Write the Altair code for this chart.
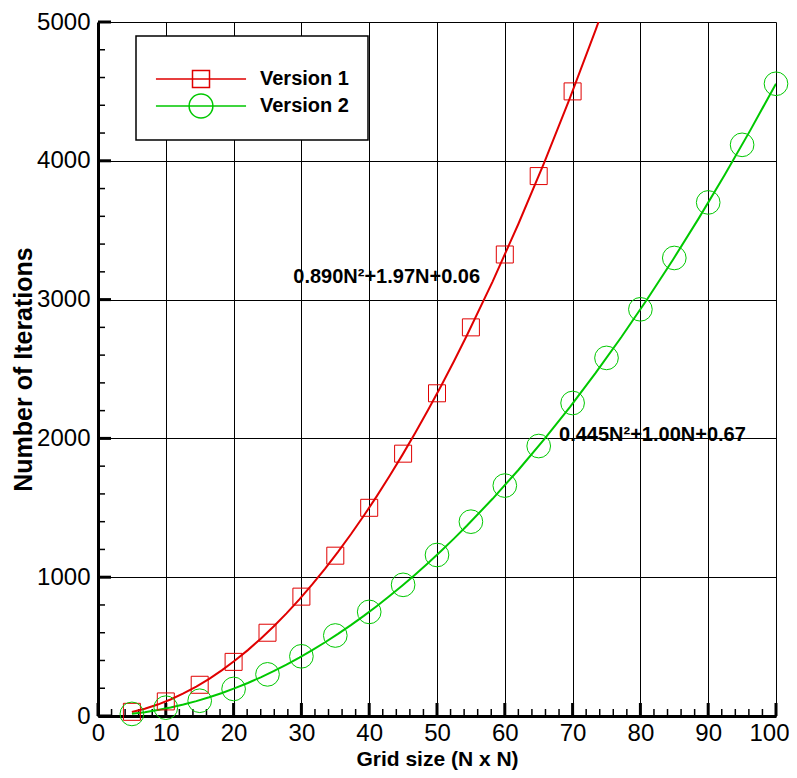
import altair as alt
import pandas as pd

# ---- data ----
series_names = ["Version 1", "Version 2"]
series_colors = ["#e00000", "#00c800"]

v1_n = [5, 10, 15, 20, 25, 30, 35, 40, 45, 50, 55, 60, 65, 70]
v1_iters = [30, 105, 225, 390, 600, 860, 1155, 1500, 1890, 2325, 2800, 3325, 3890, 4500]

v2_n = [5, 10, 15, 20, 25, 30, 35, 40, 45, 50, 55, 60, 65, 70, 75, 80, 85, 90, 95, 100]
v2_iters = [15, 60, 110, 195, 300, 430, 580, 750, 945, 1160, 1400, 1660, 1945, 2255,
            2580, 2930, 3300, 3700, 4115, 4555]

x_ticks = [0, 10, 20, 30, 40, 50, 60, 70, 80, 90, 100]
y_ticks = [0, 1000, 2000, 3000, 4000, 5000]
x_minor = [v for v in range(0, 101, 2) if v % 10]
y_minor = [v for v in range(0, 5001, 200) if v % 1000]

eq_labels = ["0.890N\u00b2+1.97N+0.06", "0.445N\u00b2+1.00N+0.67"]
eq_n = [28.8, 68.0]
eq_iters = [3165, 2025]

# ---- tables ----
df = pd.DataFrame({
    "series": [series_names[0]] * len(v1_n) + [series_names[1]] * len(v2_n),
    "n": v1_n + v2_n,
    "iters": v1_iters + v2_iters,
})
eq_df = pd.DataFrame({"n": eq_n, "iters": eq_iters, "label": eq_labels})

W, H = 678, 694
FONT = "Liberation Sans"

SQ_PATH = "M-5.3,0H5.3M-1,-1H1V1H-1Z"
CI_PATH = "M-5.3,0H5.3M-1.4,0A1.4,1.4,0,1,1,1.4,0A1.4,1.4,0,1,1,-1.4,0Z"

legend_def = alt.Legend(
    title=" ", titleFontSize=10, titlePadding=4,
    orient="none", legendX=38, legendY=14, padding=19,
    strokeColor="black", fillColor="white",
    labelFont=FONT, labelFontSize=20, labelFontWeight="bold", labelColor="black",
    symbolSize=289, symbolStrokeWidth=1.5, symbolOffset=36, labelOffset=49,
    rowPadding=0,
)

color = alt.Color("series:N", scale=alt.Scale(domain=series_names, range=series_colors),
                  legend=legend_def)
shape = alt.Shape("series:N", scale=alt.Scale(domain=series_names, range=[SQ_PATH, CI_PATH]),
                  legend=legend_def)

last_x = "datum.value == 100"
x_enc = alt.X("n:Q", scale=alt.Scale(domain=[0, 100], nice=False),
              axis=alt.Axis(values=x_ticks, title="Grid size (N x N)",
                            titleFont=FONT, titleFontSize=21, titleFontWeight="bold",
                            titleColor="black", titlePadding=3,
                            labelFont=FONT, labelFontSize=24, labelColor="black",
                            labelPadding=5, ticks=False, tickSize=0,
                            labelAlign={"condition": {"test": last_x, "value": "right"},
                                        "value": "center"},
                            labelOffset={"condition": {"test": last_x, "value": 13},
                                         "value": 0},
                            domainColor="black", domainWidth=3,
                            grid=True, gridColor="black", gridWidth=1, gridOpacity=1,
                            labelFlush=False, labelOverlap=False))
y_enc = alt.Y("iters:Q", scale=alt.Scale(domain=[0, 5000], nice=False),
              axis=alt.Axis(values=y_ticks, format="d", title="Number of Iterations",
                            titleFont=FONT, titleFontSize=25, titleFontWeight="bold",
                            titleColor="black", titlePadding=0,
                            labelFont=FONT, labelFontSize=24, labelColor="black",
                            labelPadding=8, ticks=False, tickSize=0,
                            domainColor="black", domainWidth=3,
                            grid=True, gridColor="black", gridWidth=1, gridOpacity=1,
                            labelFlush=False, labelOverlap=False))

base = alt.Chart(df)

curves = base.transform_regression(
    "n", "iters", method="poly", order=2, groupby=["series"], extent=[5, 100]
).mark_line(clip=True, strokeWidth=2).encode(x=x_enc, y=y_enc, color=color)

squares = base.transform_filter(alt.datum.series == series_names[0]).mark_point(
    shape="square", size=289, filled=False, strokeWidth=1, opacity=1
).encode(x=x_enc, y=y_enc, color=color)

circles = base.transform_filter(alt.datum.series == series_names[1]).mark_point(
    shape="circle", size=560, filled=False, strokeWidth=1, opacity=1
).encode(x=x_enc, y=y_enc, color=color)

legend_src = base.mark_point(opacity=0, size=289, filled=False).encode(
    x=x_enc, y=y_enc, color=color, shape=shape)

xt_major = alt.Chart(pd.DataFrame({"n": x_ticks})).mark_rule(
    color="black", strokeWidth=3).encode(x=x_enc, y=alt.value(H), y2=alt.value(H - 13))
xt_minor = alt.Chart(pd.DataFrame({"n": x_minor})).mark_rule(
    color="black", strokeWidth=1.5).encode(x=x_enc, y=alt.value(H), y2=alt.value(H - 7))
yt_major = alt.Chart(pd.DataFrame({"iters": y_ticks})).mark_rule(
    color="black", strokeWidth=3).encode(y=y_enc, x=alt.value(0), x2=alt.value(13))
yt_minor = alt.Chart(pd.DataFrame({"iters": y_minor})).mark_rule(
    color="black", strokeWidth=1.5).encode(y=y_enc, x=alt.value(0), x2=alt.value(7))

eqs = alt.Chart(eq_df).mark_text(
    align="left", baseline="middle", font=FONT, fontSize=20, fontWeight="bold", color="black"
).encode(x=x_enc, y=y_enc, text="label:N")

chart = alt.layer(
    xt_major, xt_minor, yt_major, yt_minor, curves, squares, circles, legend_src, eqs
).properties(
    width=W, height=H,
    padding={"left": 90, "top": 14, "right": 13, "bottom": 54},
    autosize=alt.AutoSizeParams(type="none"),
).configure_view(stroke=None).configure_legend(strokeWidth=1.5)

chart.save("out.html", embed_options={"renderer": "svg", "actions": False})
